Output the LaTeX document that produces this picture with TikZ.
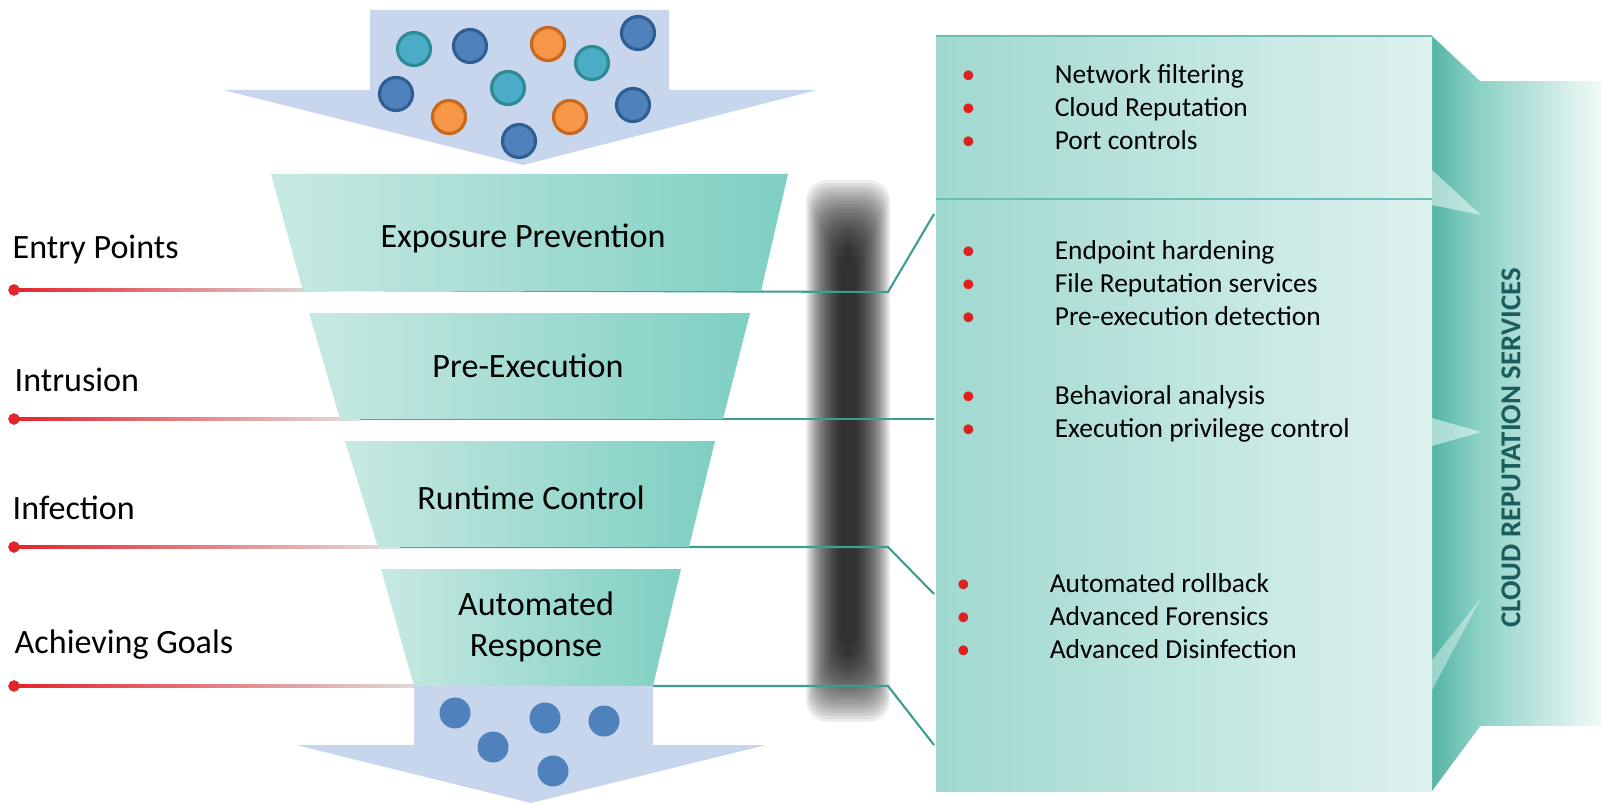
\documentclass[tikz,border=0pt]{standalone}
\usepackage{fontspec}
\setmainfont{Carlito}
\usetikzlibrary{calc}

\definecolor{funlight}{HTML}{C8E9E3}
\definecolor{fundark}{HTML}{7ECFC2}
\definecolor{arrowblue}{HTML}{C7D6EC}
\definecolor{panelleft}{HTML}{A0D9D0}
\definecolor{panelright}{HTML}{DDF1EE}
\definecolor{paneledge}{HTML}{6BBFB2}
\definecolor{sidedark}{HTML}{55B5A6}
\definecolor{sidelight}{HTML}{8ED3C7}
\definecolor{barleft}{HTML}{8ED2C7}
\definecolor{barright}{HTML}{F2FAF8}
\definecolor{crstext}{HTML}{1D5C5C}
\definecolor{linkteal}{HTML}{3E9E8E}
\definecolor{linered}{HTML}{E5232B}
\definecolor{bulred}{HTML}{E0201E}
\definecolor{ballblue}{HTML}{4F81BD}
\definecolor{ballblueedge}{HTML}{2F5E91}
\definecolor{ballteal}{HTML}{4BACC6}
\definecolor{balltealedge}{HTML}{2E8A94}
\definecolor{ballorange}{HTML}{F79646}
\definecolor{ballorangeedge}{HTML}{C8681E}

\newcommand{\itembul}{\makebox[26.5pt][l]{\textcolor{bulred}{\textbullet}}}

\begin{document}
\begin{tikzpicture}[x=0.1mm, y=-0.1mm,
  funnel/.style={left color=funlight, right color=fundark},
  flowarrow/.style={fill=arrowblue},
  stage/.style={font=\fontsize{9.7}{11.6}\selectfont, align=center, inner sep=0pt},
  phase/.style={font=\fontsize{9.7}{11.6}\selectfont, anchor=west, inner sep=0pt},
  reddot/.style={circle, fill=linered, minimum size=3.2pt, inner sep=0pt},
  redfade/.style={left color=linered, right color=black!12},
  link/.style={draw=linkteal, line width=0.6pt},
  items/.style={font=\fontsize{7.8}{9.3}\selectfont, align=left, anchor=west, inner sep=0pt},
  blueball/.style={fill=ballblue, draw=ballblueedge, line width=0.9pt},
  tealball/.style={fill=ballteal, draw=balltealedge, line width=0.9pt},
  orangeball/.style={fill=ballorange, draw=ballorangeedge, line width=0.9pt},
  outball/.style={fill=ballblue}
]
\useasboundingbox (0,0) rectangle (1601,805);

% blurred shadow bar
\foreach \k in {0,...,23}
  \fill[black, opacity=0.065, rounded corners=6] (806+1.5*\k,180+3*\k) rectangle (890-1.5*\k,722-3*\k);

% right panel
\shade[left color=barleft, right color=barright] (1481,82) rectangle (1601,725);
\shade[left color=sidedark, right color=sidelight] (1432,36) -- (1481,82) -- (1481,725) -- (1432,791) -- cycle;
\fill[white, opacity=0.5] (1432,170) -- (1481,215) -- (1432,205) -- cycle;
\fill[white, opacity=0.5] (1432,418) -- (1481,432) -- (1432,446) -- cycle;
\fill[white, opacity=0.4] (1432,690) -- (1481,598) -- (1432,660) -- cycle;
\shade[left color=panelleft, right color=panelright] (936,199) rectangle (1432,791);
\shade[left color=panelleft, right color=panelright] (936,36) rectangle (1432,199);
\draw[paneledge, line width=0.8pt] (936,36) -- (1432,36);
\draw[paneledge, line width=0.8pt] (936,199) -- (1432,199);

\node[items] (grpone) at (961,107) {\itembul Network filtering\\ \itembul Cloud Reputation\\ \itembul Port controls};
\node[items] (grptwo) at (961,283) {\itembul Endpoint hardening\\ \itembul File Reputation services\\ \itembul Pre-execution detection};
\node[items] (grpthree) at (961,414) {\itembul Behavioral analysis\\ \itembul Execution privilege control};
\node[items] (grpfour) at (956,616) {\itembul Automated rollback\\ \itembul Advanced Forensics\\ \itembul Advanced Disinfection};
\node[font=\fontsize{8.2}{10}\selectfont\bfseries, text=crstext, rotate=90, inner sep=0pt] (crs) at (1511,448) {CLOUD REPUTATION SERVICES};

% phase lines
\node[reddot] (d1) at (14,290) {};
\node[reddot] (d2) at (14,419) {};
\node[reddot] (d3) at (14,547) {};
\node[reddot] (d4) at (14,686) {};
\coordinate (f1) at (330,290);
\coordinate (f2) at (360,419);
\coordinate (f3) at (400,547);
\coordinate (f4) at (430,686);
\coordinate (b1) at (888,292);
\coordinate (b3) at (888,547);
\coordinate (b4) at (888,686);
\coordinate (p1) at (934,214);
\coordinate (p2) at (934,419);
\coordinate (p3) at (934,594);
\coordinate (p4) at (934,745);
\shade[redfade] ($(d1)+(0,-1.6)$) rectangle ($(f1)+(0,1.6)$);
\shade[redfade] ($(d2)+(0,-1.6)$) rectangle ($(f2)+(0,1.6)$);
\shade[redfade] ($(d3)+(0,-1.6)$) rectangle ($(f3)+(0,1.6)$);
\shade[redfade] ($(d4)+(0,-1.6)$) rectangle ($(f4)+(0,1.6)$);
\draw[link] (f1) -- (b1) -- (p1);
\draw[link] (f2) -- (p2);
\draw[link] (f3) -- (b3) -- (p3);
\draw[link] (f4) -- (b4) -- (p4);
\node[reddot] at (d1) {};
\node[reddot] at (d2) {};
\node[reddot] at (d3) {};
\node[reddot] at (d4) {};

\node[phase] (entry) at (12,250) {Entry Points};
\node[phase] (intrusion) at (14,380) {Intrusion};
\node[phase] (infection) at (12,508) {Infection};
\node[phase] (goals) at (14,645) {Achieving Goals};

% funnel
\shade[funnel] (271,174) -- (788,174) -- (761,291) -- (303,291) -- cycle;
\node[stage] (expo) at (523,238) {Exposure Prevention};
\shade[funnel] (309,313) -- (750,313) -- (723,419) -- (340,419) -- cycle;
\node[stage] (preexec) at (528,366) {Pre-Execution};
\shade[funnel] (345,441) -- (715,441) -- (689,547) -- (378,547) -- cycle;
\node[stage] (runtime) at (531,498) {Runtime Control};
\shade[funnel] (381,569) -- (681,569) -- (653,686) -- (414,686) -- cycle;
\node[stage] (autoresp) at (536,627) {Automated\\Response};

% incoming threats
\fill[flowarrow] (370,10) -- (669,10) -- (669,90) -- (817,90) -- (523,165) -- (223,90) -- (370,90) -- cycle;
\filldraw[tealball] (414,49) circle (16.5);
\filldraw[blueball] (470,46) circle (16.5);
\filldraw[orangeball] (548,44) circle (16.5);
\filldraw[tealball] (592,63) circle (16.5);
\filldraw[blueball] (638,33) circle (16.5);
\filldraw[blueball] (396,94) circle (16.5);
\filldraw[tealball] (508,88) circle (16.5);
\filldraw[orangeball] (449,117) circle (16.5);
\filldraw[orangeball] (570,117) circle (16.5);
\filldraw[blueball] (519,141) circle (16.5);
\filldraw[blueball] (633,105) circle (16.5);

% outgoing
\fill[flowarrow] (414,686) -- (653,686) -- (653,745) -- (766,745) -- (531,803) -- (296,745) -- (414,745) -- cycle;
\fill[outball] (455,713) circle (15.5);
\fill[outball] (545,718) circle (15.5);
\fill[outball] (604,721) circle (15.5);
\fill[outball] (493,747) circle (15.5);
\fill[outball] (553,771) circle (15.5);
\end{tikzpicture}
\end{document}
